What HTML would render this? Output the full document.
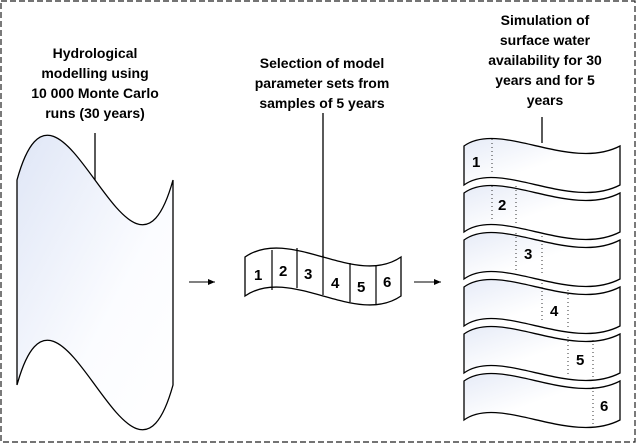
<!DOCTYPE html>
<html><head><meta charset="utf-8"><style>
html,body{margin:0;padding:0;background:#fff}
svg{display:block}
text{font-family:"Liberation Sans",Arial,sans-serif;font-weight:bold;font-size:14px;fill:#000}
text.n{font-size:15px}
</style></head><body>
<svg width="637" height="444" viewBox="0 0 637 444" xmlns="http://www.w3.org/2000/svg">
<defs>
<linearGradient id="g" x1="0" y1="0" x2="1" y2="1">
<stop offset="0" stop-color="#dfe6f6"/><stop offset="0.6" stop-color="#fbfcff"/><stop offset="1" stop-color="#fff"/>
</linearGradient>
<linearGradient id="g2" x1="0" y1="0" x2="1" y2="1">
<stop offset="0" stop-color="#e6ebf7"/><stop offset="0.5" stop-color="#fff"/><stop offset="1" stop-color="#fff"/>
</linearGradient>
<marker id="ar" markerWidth="8" markerHeight="8" refX="7" refY="4" orient="auto" markerUnits="userSpaceOnUse">
<path d="M0,1 L7,4 L0,7 Z" fill="#000"/></marker>
</defs>
<rect x="1" y="1" width="634" height="441" fill="none" stroke="#222" stroke-width="1.2" stroke-dasharray="6,3"/>

<text text-anchor="middle" x="95" y="58">Hydrological</text>
<text text-anchor="middle" x="95" y="78">modelling using</text>
<text text-anchor="middle" x="95" y="98">10 000 Monte Carlo</text>
<text text-anchor="middle" x="95" y="118">runs (30 years)</text>
<line x1="95" y1="133" x2="95" y2="180" stroke="#000" stroke-width="1.3"/>
<path d="M17,180 C60,25 130,335 173,180 L173,385 C130,540 60,230 17,385 Z" fill="url(#g)" stroke="#000" stroke-width="1.3"/>

<line x1="189" y1="282" x2="215" y2="282" stroke="#000" marker-end="url(#ar)"/>

<text text-anchor="middle" x="322" y="68">Selection of model</text>
<text text-anchor="middle" x="322" y="88">parameter sets from</text>
<text text-anchor="middle" x="322" y="108">samples of 5 years</text>
<line x1="323" y1="113" x2="323" y2="258" stroke="#000" stroke-width="1.3"/>
<path d="M245,257 C290,226 356,288 401,257 L401,296 C356,327 290,265 245,296 Z" fill="#fff" stroke="#000" stroke-width="1.3"/>
<g stroke="#000" stroke-width="1.2">
<line x1="272" y1="250" x2="272" y2="290"/>
<line x1="297" y1="248" x2="297" y2="288"/>
<line x1="323" y1="255" x2="323" y2="295"/>
<line x1="350" y1="263" x2="350" y2="302"/>
<line x1="376" y1="265" x2="376" y2="304"/>
</g>
<text class="n" x="254" y="280">1</text><text class="n" x="279" y="276">2</text><text class="n" x="304" y="279">3</text>
<text class="n" x="331" y="288">4</text><text class="n" x="357" y="292">5</text><text class="n" x="383" y="287">6</text>

<line x1="414" y1="282" x2="441" y2="282" stroke="#000" marker-end="url(#ar)"/>

<text text-anchor="middle" x="545" y="25">Simulation of</text>
<text text-anchor="middle" x="545" y="45">surface water</text>
<text text-anchor="middle" x="545" y="65">availability for 30</text>
<text text-anchor="middle" x="545" y="85">years and for 5</text>
<text text-anchor="middle" x="545" y="105">years</text>
<line x1="542" y1="117" x2="542" y2="143" stroke="#000" stroke-width="1.3"/>

<g id="t">
<path d="M464,146 C500,120 570,172 620,146 L620,185 C570,211 500,159 464,185 Z" fill="url(#g2)" stroke="#000" stroke-width="1.3"/>
</g>
<use href="#t" y="47"/><use href="#t" y="94"/><use href="#t" y="141"/><use href="#t" y="188"/><use href="#t" y="235"/>

<g stroke="#333" stroke-width="1" stroke-dasharray="1,3">
<line x1="492" y1="139" x2="492" y2="175"/>
<line x1="492" y1="186" x2="492" y2="222"/><line x1="516" y1="186" x2="516" y2="224"/>
<line x1="516" y1="233" x2="516" y2="271"/><line x1="542" y1="236" x2="542" y2="275"/>
<line x1="542" y1="283" x2="542" y2="322"/><line x1="568" y1="290" x2="568" y2="330"/>
<line x1="568" y1="337" x2="568" y2="377"/><line x1="593" y1="340" x2="593" y2="380"/>
<line x1="593" y1="387" x2="593" y2="427"/>
</g>
<text class="n" x="472" y="167">1</text>
<text class="n" x="498" y="210">2</text>
<text class="n" x="524" y="259">3</text>
<text class="n" x="550" y="316">4</text>
<text class="n" x="576" y="365">5</text>
<text class="n" x="600" y="411">6</text>
</svg>
</body></html>
